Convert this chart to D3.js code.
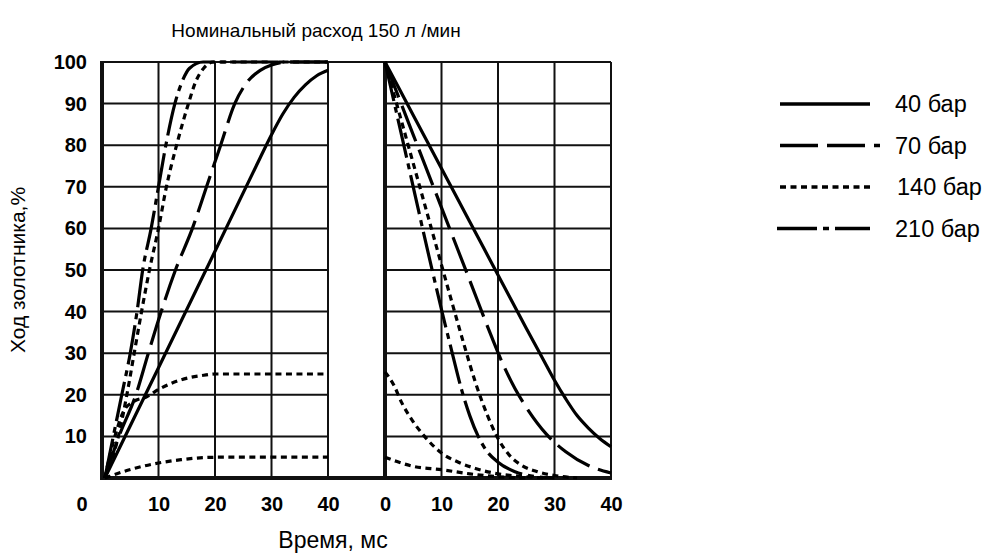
<!DOCTYPE html>
<html>
<head>
<meta charset="utf-8">
<script src="https://cdn.jsdelivr.net/npm/d3@7/dist/d3.min.js"></script>
<style>
  html, body { margin: 0; padding: 0; background: #fff; }
  svg { display: block; font-family: "Liberation Sans", Arial, sans-serif; }
</style>
</head>
<body>
<svg id="chart" width="986" height="556"></svg>
<script>
// Tick values
const timeTicks = [0, 10, 20, 30, 40];
const percentTicks = [10, 20, 30, 40, 50, 60, 70, 80, 90, 100];
const pressureLabels = ["40 бар", "70 бар", "140 бар", "210 бар"];

// Spool opening (time ms, stroke %)
const open40 = [[0.5,0],[10,26.5],[20,54.5],[28,77],[30,82.5],[32,87.5],[34,91.5],[36,94.5],[38,96.7],[40,98]];
const open70 = [[0.5,0],[3,10],[6,20],[8.2,30],[10,38],[13,50],[16,60],[18.5,70],[21,80],[23.5,90],[25.6,95],[28,98],[30,99.3],[33,100],[40,100]];
const open140 = [[0.5,0],[2.9,10],[4.4,20],[5.7,30],[7,40],[8.4,50],[10,60],[11.4,70],[13.2,80],[15.3,90],[16.5,95],[18,98.5],[19.7,100],[40,100]];
const open210 = [[0.5,0],[2,10],[3.5,20],[5,30],[6.2,40],[7.2,50],[8.7,60],[10,70],[11.3,80],[12.9,90],[14.1,95],[15.5,98.5],[17.9,100],[40,100]];
const open140Part25 = [[0.5,0],[1.5,6],[2.5,11],[3.8,16],[5.5,18.3],[7.9,19.5],[10.3,21.5],[14,23.6],[18,24.7],[20,25],[40,25]];
const open140Part5 = [[0.5,0],[3,1.2],[6,2.4],[10,3.6],[14,4.4],[18,4.9],[21,5],[40,5]];

// Spool closing (time ms, stroke %)
const close40 = [[0,100],[5,87.2],[10,74.4],[15,61.6],[20,48.8],[25,36],[28,28.5],[30,23.5],[32,19],[34,15],[36,12],[38,9.5],[40,7.5]];
const close70 = [[0,100],[5,82.5],[10,65],[15,47.5],[19,33.5],[21,27],[23,21.5],[25,17],[28.6,10.5],[32,6.3],[36,3],[40,1.2]];
const close140 = [[0,100],[4,80.5],[8,61],[12,41.5],[14,32],[16,23],[18,15.5],[20,9.5],[22,5.5],[24,3.2],[27,1.5],[30,0.6],[34,0]];
const close210 = [[0,100],[4,76],[8,52],[10,40.5],[12,29.5],[13.5,21.5],[15,15],[16.5,10],[18,6.5],[20,3.8],[23,1.5],[27,0.3],[30,0]];
const close140Part25 = [[0,25.5],[1.5,22.5],[3,18],[5,13.5],[7,10],[10,6],[13,3.8],[16,2.3],[20,1],[25,0.3],[28,0]];
const close140Part5 = [[0,5],[2,4],[5,2.8],[10,2],[15,1],[20,0.3],[25,0]];

// Line styles per pressure
const styles = {
  "40 бар":  { dash: null },
  "70 бар":  { dash: "38,9" },
  "140 бар": { dash: "6,4.5" },
  "210 бар": { dash: "40,6,6,6" }
};

const svg = d3.select("#chart");
const ink = "#111";

const xLeft = d3.scaleLinear().domain([0, 40]).range([102, 328]);
const xRight = d3.scaleLinear().domain([0, 40]).range([385, 611]);
const y = d3.scaleLinear().domain([0, 100]).range([478, 62]);

// Grid of each panel
[xLeft, xRight].forEach(xs => {
  const g = svg.append("g").attr("class", "grid");
  g.selectAll("line.h").data(percentTicks.slice(0, -1)).join("line")
    .attr("x1", xs(0)).attr("x2", xs(40))
    .attr("y1", d => y(d)).attr("y2", d => y(d))
    .attr("stroke", ink).attr("stroke-width", 2);
  g.selectAll("line.v").data(timeTicks.slice(1)).join("line")
    .attr("x1", d => xs(d)).attr("x2", d => xs(d))
    .attr("y1", y(0)).attr("y2", y(100))
    .attr("stroke", ink).attr("stroke-width", 2);
  // thick vertical axis at zero time
  g.append("line")
    .attr("x1", xs(0)).attr("x2", xs(0))
    .attr("y1", y(0) + 2).attr("y2", y(100) - 1)
    .attr("stroke", ink).attr("stroke-width", 4);
});

// Top border and time axis running through both panels
svg.append("line")
  .attr("x1", xLeft(0)).attr("x2", xRight(40))
  .attr("y1", y(100)).attr("y2", y(100))
  .attr("stroke", ink).attr("stroke-width", 2);
svg.append("line")
  .attr("x1", xLeft(0) - 2).attr("x2", xRight(40) + 1)
  .attr("y1", y(0)).attr("y2", y(0))
  .attr("stroke", ink).attr("stroke-width", 4);

// Curves
function drawCurve(data, xs, label) {
  const line = d3.line()
    .x(d => xs(d[0]))
    .y(d => y(d[1]))
    .curve(d3.curveMonotoneX);
  const p = svg.append("path")
    .datum(data)
    .attr("d", line)
    .attr("fill", "none")
    .attr("stroke", "#000")
    .attr("stroke-width", 3.2)
    .attr("stroke-linejoin", "round");
  if (styles[label].dash) p.attr("stroke-dasharray", styles[label].dash);
}

drawCurve(open40, xLeft, "40 бар");
drawCurve(open70, xLeft, "70 бар");
drawCurve(open140, xLeft, "140 бар");
drawCurve(open210, xLeft, "210 бар");
drawCurve(open140Part25, xLeft, "140 бар");
drawCurve(open140Part5, xLeft, "140 бар");

drawCurve(close40, xRight, "40 бар");
drawCurve(close70, xRight, "70 бар");
drawCurve(close140, xRight, "140 бар");
drawCurve(close210, xRight, "210 бар");
drawCurve(close140Part25, xRight, "140 бар");
drawCurve(close140Part5, xRight, "140 бар");

// Axes labels
function styleAxis(g) {
  g.select(".domain").remove();
  g.selectAll(".tick line").remove();
  g.selectAll("text")
    .attr("font-family", "'Liberation Sans', Arial, sans-serif")
    .attr("font-size", 20)
    .attr("font-weight", "bold")
    .attr("fill", "#000");
}

const axLeft = svg.append("g")
  .attr("transform", `translate(0,${y(0)})`)
  .call(d3.axisBottom(xLeft).tickValues(timeTicks).tickSize(0).tickPadding(19).tickFormat(d3.format("d")))
  .call(styleAxis);
axLeft.selectAll(".tick").filter(d => d === 0)
  .attr("transform", `translate(${xLeft(0) - 20},0)`);

svg.append("g")
  .attr("transform", `translate(0,${y(0)})`)
  .call(d3.axisBottom(xRight).tickValues(timeTicks).tickSize(0).tickPadding(19).tickFormat(d3.format("d")))
  .call(styleAxis);

svg.append("g")
  .attr("transform", `translate(${xLeft(0)},0)`)
  .call(d3.axisLeft(y).tickValues(percentTicks).tickSize(0).tickPadding(15).tickFormat(d3.format("d")))
  .call(styleAxis);

// Titles
svg.append("text")
  .attr("x", 316).attr("y", 37)
  .attr("text-anchor", "middle")
  .attr("font-size", 19)
  .text("Номинальный расход 150 л /мин");

svg.append("text")
  .attr("x", 333).attr("y", 548)
  .attr("text-anchor", "middle")
  .attr("font-size", 23)
  .text("Время, мс");

svg.append("text")
  .attr("transform", "translate(25,270) rotate(-90)")
  .attr("text-anchor", "middle")
  .attr("font-size", 21)
  .text("Ход золотника,%");

// Legend
const legend = svg.append("g").attr("transform", "translate(780,104)");
const rows = legend.selectAll("g").data(pressureLabels).join("g")
  .attr("transform", (d, i) => `translate(0,${i * 41.5})`);
rows.append("line")
  .attr("x1", (d, i) => i === 3 ? -3 : 0)
  .attr("x2", (d, i) => i === 1 ? 100 : 90)
  .attr("y1", 0).attr("y2", 0)
  .attr("stroke", "#000")
  .attr("stroke-width", 3.5)
  .attr("stroke-dasharray", d => styles[d].dash);
rows.append("text")
  .attr("x", (d, i) => i === 2 ? 117 : 115)
  .attr("y", 0)
  .attr("dy", "0.35em")
  .attr("font-size", 23.5)
  .text(d => d);
</script>
</body>
</html>
